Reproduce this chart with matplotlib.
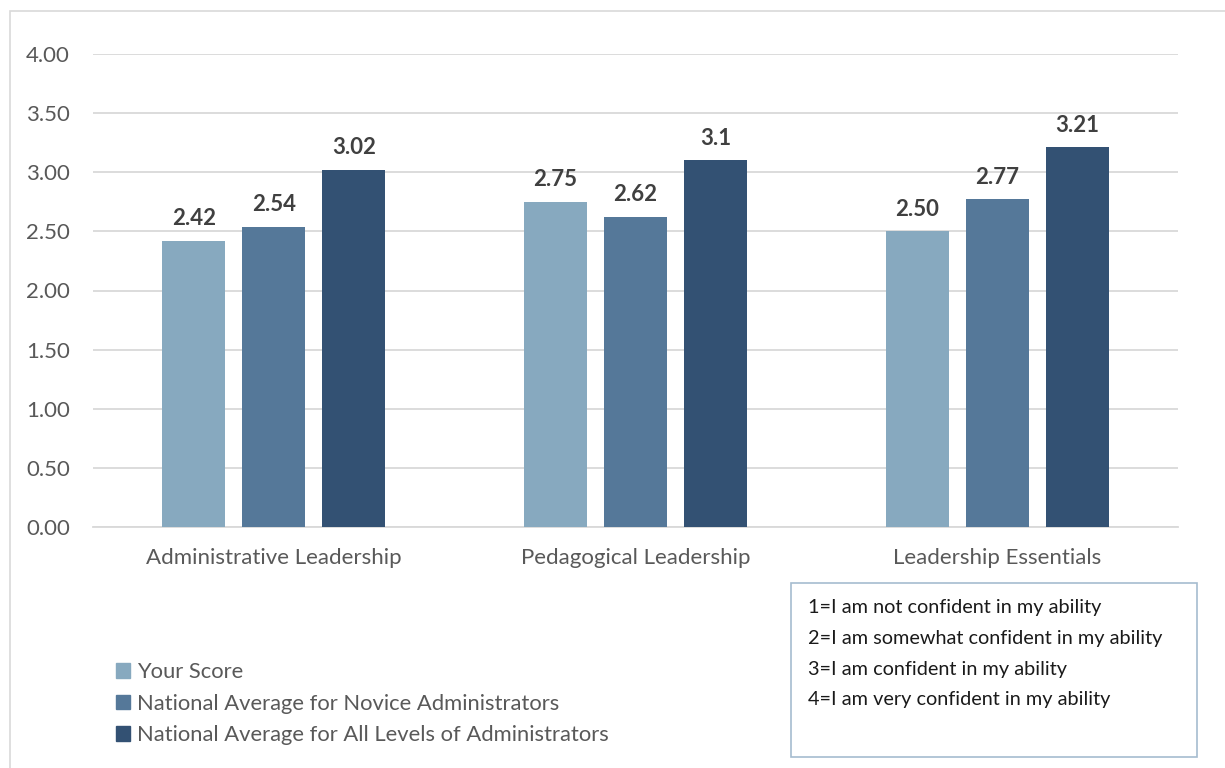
import matplotlib.pyplot as plt
import matplotlib.patches as mpatches
import numpy as np

plt.rcParams['font.family'] = ['Lato', 'DejaVu Sans']

categories = ['Administrative Leadership', 'Pedagogical Leadership', 'Leadership Essentials']
series_names = ['Your Score',
                'National Average for Novice Administrators',
                'National Average for All Levels of Administrators']
your_score = [2.42, 2.75, 2.50]
novice_avg = [2.54, 2.62, 2.77]
all_levels_avg = [3.02, 3.10, 3.21]
value_labels = [['2.42', '2.75', '2.50'],
                ['2.54', '2.62', '2.77'],
                ['3.02', '3.1', '3.21']]
scale_notes = ['1=I am not confident in my ability',
               '2=I am somewhat confident in my ability',
               '3=I am confident in my ability',
               '4=I am very confident in my ability']

colors = ['#87A9BF', '#557899', '#335173']
values = [your_score, novice_avg, all_levels_avg]

fig = plt.figure(figsize=(12.25, 7.68), dpi=100)

# light outer frame around the chart area
fig.patches.append(mpatches.Rectangle((10 / 1225, -0.1), 1.2, 1 - 11 / 768 + 0.1,
                                      transform=fig.transFigure, fill=False,
                                      edgecolor='#D9D9D9', linewidth=1.2))

ax = fig.add_axes([93 / 1225, 1 - 527 / 768, 1085 / 1225, 473 / 768])

x = np.arange(len(categories))
width = 0.174
step = 0.221
for i in range(3):
    pos = x + (i - 1) * step
    ax.bar(pos, values[i], width, color=colors[i], label=series_names[i], zorder=3)
    for p, v, t in zip(pos, values[i], value_labels[i]):
        ax.text(p, v + 0.1, t, ha='center', va='bottom', fontsize=16,
                fontweight='bold', color='#404040')

ax.set_xlim(-0.5, 2.5)
ax.set_ylim(0, 4)
ax.set_yticks(np.arange(0, 4.01, 0.5))
ax.set_yticklabels(['%.2f' % v for v in np.arange(0, 4.01, 0.5)])
ax.set_xticks(x)
ax.set_xticklabels(categories)
ax.yaxis.grid(True, color='#D9D9D9', linewidth=1.3, zorder=0)
ax.set_axisbelow(True)
for s in ['top', 'right', 'left']:
    ax.spines[s].set_visible(False)
ax.spines['bottom'].set_color('#D9D9D9')
ax.spines['bottom'].set_linewidth(1.3)
ax.tick_params(axis='both', length=0, labelsize=16, colors='#595959')
ax.tick_params(axis='y', pad=16.5)
ax.tick_params(axis='x', pad=15)

# series legend, bottom left
handles = [mpatches.Patch(color=c) for c in colors]
fig.legend(handles, series_names, loc='upper left',
           bbox_to_anchor=(105 / 1225, 1 - 651 / 768), frameon=False,
           fontsize=15.8, labelcolor='#595959', handlelength=0.65, handleheight=0.65,
           handletextpad=0.3, labelspacing=0.53, borderpad=0)

# rating scale key, bottom right
fig.patches.append(mpatches.Rectangle((791 / 1225, 1 - 757 / 768), 406 / 1225, 174 / 768,
                                      transform=fig.transFigure, fill=False,
                                      edgecolor='#A6BCCF', linewidth=1.2))
for k, note in enumerate(scale_notes):
    fig.text(808 / 1225, 1 - (608 + k * 30.5) / 768, note, fontsize=14.3,
             color='#1A1A1A', va='center', ha='left')

fig.savefig('out.png', dpi=100)
